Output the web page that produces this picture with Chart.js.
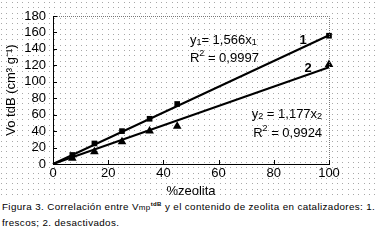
<!DOCTYPE html>
<html>
<head>
<meta charset="utf-8">
<script src="https://cdn.jsdelivr.net/npm/chart.js@4/dist/chart.umd.min.js"></script>
<style>
  html, body { margin:0; padding:0; background:#fff; }
  #wrap { position:relative; width:375px; height:242px; overflow:hidden; background:#fff; }
  #c { position:absolute; left:0; top:0; }
  #cap { position:absolute; left:2px; top:199px; width:373px; font-family:"Liberation Sans", Arial, sans-serif;
         font-size:9.8px; letter-spacing:0.38px; line-height:15px; color:#000; white-space:nowrap; }
  #cap sup { font-size:6px; vertical-align:4px; line-height:0; font-weight:bold; }
</style>
</head>
<body>
<div id="wrap">
  <canvas id="c" width="375" height="198"></canvas>
  <div id="cap">Figura 3. Correlación entre V<span style="font-size:8px">mp</span><sup>tdB</sup> y el contenido de zeolita en catalizadores: 1.<br>frescos; 2. desactivados.</div>
</div>
<script>
// ---- data ----
const zeolitaFresh = [7, 15, 25, 35, 45, 100];
const volumeFresh  = [11, 25, 40, 55, 73, 156];
const zeolitaDeact = [7, 15, 25, 35, 45, 100];
const volumeDeact  = [7, 15, 27, 40, 46, 121];
const trend1X = [0, 100];
const trend1Y = [0, 156.6];
const trend2X = [0, 100];
const trend2Y = [0, 117.7];
const xTicks = [0, 20, 40, 60, 80, 100];
const yTicks = [0, 20, 40, 60, 80, 100, 120, 140, 160, 180];

const pts = (xs, ys) => xs.map((x, i) => ({x: x, y: ys[i]}));
const FONT = '"Liberation Sans", Arial, sans-serif';

const dotsPlugin = {
  id: 'dots',
  beforeDraw(chart) {
    const ctx = chart.ctx;
    ctx.save();
    ctx.fillStyle = '#fff';
    ctx.fillRect(0, 0, chart.width, chart.height);
    ctx.fillStyle = '#a8a8a8';
    const step = 16 / 3;
    for (let y = 2; y < 196; y += step) {
      for (let x = 1; x < chart.width; x += step) {
        ctx.fillRect(Math.round(x), Math.round(y), 1, 1);
      }
    }
    ctx.restore();
  }
};

function richText(ctx, segs, x, y, align) {
  let w = 0;
  segs.forEach(s => { ctx.font = s[1] + 'px ' + FONT; w += ctx.measureText(s[0]).width; });
  let cx = align === 'right' ? x - w : x;
  segs.forEach(s => {
    ctx.font = s[1] + 'px ' + FONT;
    ctx.fillText(s[0], cx, y + s[2]);
    cx += ctx.measureText(s[0]).width;
  });
}

const framePlugin = {
  id: 'frame',
  afterDraw(chart) {
    const ctx = chart.ctx;
    const a = chart.chartArea;
    const xs = chart.scales.x, ys = chart.scales.y;
    ctx.save();
    ctx.strokeStyle = '#777';
    ctx.lineWidth = 1;
    ctx.setLineDash([1, 1]);
    ctx.beginPath();
    ctx.moveTo(a.left, a.top + 0.5);
    ctx.lineTo(a.right + 0.5, a.top + 0.5);
    ctx.lineTo(a.right + 0.5, a.bottom);
    ctx.stroke();
    ctx.setLineDash([]);
    ctx.strokeStyle = '#000';
    ctx.beginPath();
    ctx.moveTo(a.left + 0.5, a.top);
    ctx.lineTo(a.left + 0.5, a.bottom + 0.5);
    ctx.lineTo(a.right + 1, a.bottom + 0.5);
    ctx.stroke();
    ctx.beginPath();
    yTicks.forEach(v => {
      const py = Math.round(ys.getPixelForValue(v)) + 0.5;
      ctx.moveTo(a.left, py); ctx.lineTo(a.left + 4, py);
    });
    xTicks.forEach(v => {
      const px = Math.round(xs.getPixelForValue(v)) + 0.5;
      ctx.moveTo(px, a.bottom); ctx.lineTo(px, a.bottom - 4);
    });
    ctx.stroke();
    ctx.fillStyle = '#000';
    ctx.textBaseline = 'middle';
    ctx.textAlign = 'left';
    const X = v => xs.getPixelForValue(v), Y = v => ys.getPixelForValue(v);
    richText(ctx, [['y', 13, 0], ['1', 9, 3], ['= 1,566x', 13, 0], ['1', 9, 3]], X(49.6), Y(150.8), 'left');
    richText(ctx, [['R', 13, 0], ['2', 9, -4], [' = 0,9997', 13, 0]], X(49.6), Y(129), 'left');
    richText(ctx, [['y', 13, 0], ['2', 9, 3], [' = 1,177x', 13, 0], ['2', 9, 3]], X(97.5), Y(60.8), 'right');
    richText(ctx, [['R', 13, 0], ['2', 9, -4], [' = 0,9924', 13, 0]], X(97.5), Y(37.7), 'right');
    ctx.font = 'bold 13px ' + FONT;
    ctx.textAlign = 'center';
    ctx.fillText('1', X(90.6), Y(150.8));
    ctx.fillText('2', X(92.4), Y(116.8));
    ctx.restore();
  }
};

new Chart(document.getElementById('c'), {
  type: 'scatter',
  data: {
    datasets: [
      { type: 'line', data: pts(trend1X, trend1Y), borderColor: '#000', borderWidth: 2, pointRadius: 0, fill: false, clip: false },
      { type: 'line', data: pts(trend2X, trend2Y), borderColor: '#000', borderWidth: 2, pointRadius: 0, fill: false, clip: false },
      { data: pts(zeolitaFresh, volumeFresh), pointStyle: 'rect', pointRadius: 4, backgroundColor: '#000', borderColor: '#000', borderWidth: 0, clip: false },
      { data: pts(zeolitaDeact, volumeDeact), pointStyle: 'triangle', pointRadius: 5, backgroundColor: '#000', borderColor: '#000', borderWidth: 0, clip: false }
    ]
  },
  options: {
    responsive: false,
    animation: false,
    devicePixelRatio: 1,
    layout: { padding: { top: 16, right: 46, left: 0, bottom: 0 } },
    plugins: { legend: { display: false }, tooltip: { enabled: false } },
    scales: {
      x: {
        type: 'linear', min: 0, max: 100,
        afterFit: s => { s.height = 34; },
        afterBuildTicks: s => { s.ticks = xTicks.map(v => ({value: v})); },
        grid: { display: false, drawTicks: false },
        border: { display: false },
        ticks: { color: '#000', font: { family: FONT, size: 13, lineHeight: 1 }, padding: 3, maxRotation: 0, autoSkip: false },
        title: { display: true, text: '%zeolita', color: '#000', font: { family: FONT, size: 13, lineHeight: 1 }, padding: { top: 0, bottom: 0 } }
      },
      y: {
        type: 'linear', min: 0, max: 180,
        afterFit: s => { s.width = 53; },
        afterBuildTicks: s => { s.ticks = yTicks.map(v => ({value: v})); },
        grid: { display: false, drawTicks: false },
        border: { display: false },
        ticks: { color: '#000', font: { family: FONT, size: 13 }, padding: 7, autoSkip: false },
        title: { display: true, text: 'Vo tdB (cm³ g⁻¹)', color: '#000', font: { family: FONT, size: 13 }, padding: { top: 4, bottom: 0 } }
      }
    }
  },
  plugins: [dotsPlugin, framePlugin]
});
</script>
</body>
</html>
